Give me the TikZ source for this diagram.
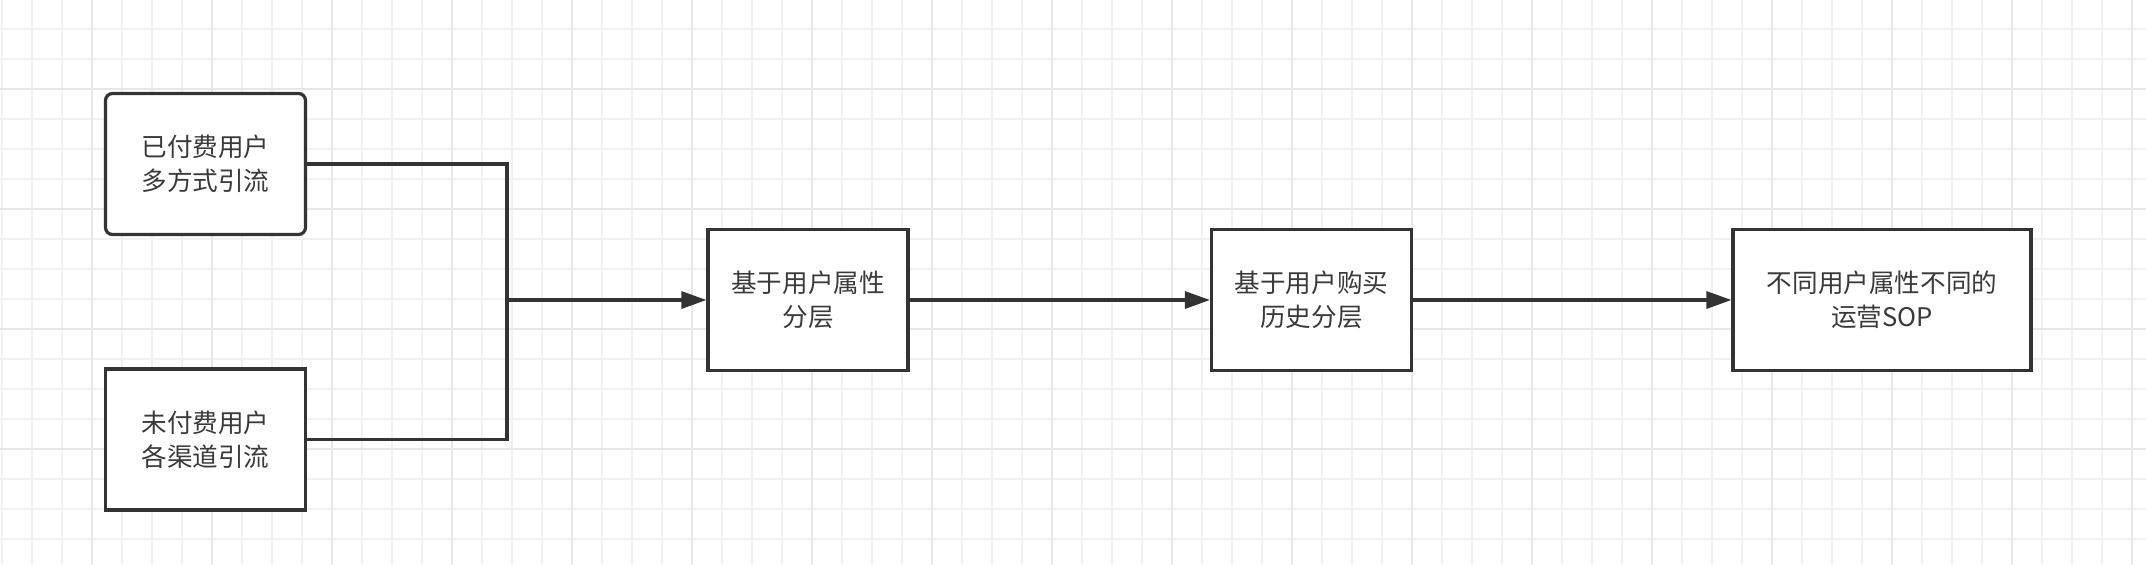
\documentclass[tikz,border=0pt]{standalone}
\usepackage{fontspec}
\newfontfamily\cjk{Noto Sans CJK SC}
\usetikzlibrary{arrows.meta}
\definecolor{ln}{HTML}{333333}
\definecolor{txt}{HTML}{3A3A3A}
\definecolor{gminor}{HTML}{F1F1F1}
\definecolor{gmajor}{HTML}{E7E7E7}
\begin{document}
\begin{tikzpicture}[x=0.5pt,y=-0.5pt,
  box/.style={draw=ln, line width=1.6pt, fill=white, text=txt,
    minimum width=100pt, minimum height=70.5pt, inner sep=0pt,
    align=center, font=\cjk\fontsize{12.8}{17}\selectfont},
  rbox/.style={box, rounded corners=3.5pt},
  conn/.style={draw=ln, line width=1.6pt},
  arr/.style={conn, -{Triangle[length=12.5pt, width=8.5pt]}}]
\useasboundingbox (0,0) rectangle (2146,564);
\fill[white] (0,0) rectangle (2146,564);
% grid
\foreach \x in {2,32,...,2146} \draw[gminor, line width=1pt] (\x,0) -- (\x,564);
\foreach \y in {29,59,...,564} \draw[gminor, line width=1pt] (0,\y) -- (2146,\y);
\foreach \x in {92,212,...,2146} \draw[gmajor, line width=1pt] (\x,0) -- (\x,564);
\foreach \y in {89,209,...,564} \draw[gmajor, line width=1pt] (0,\y) -- (2146,\y);
% nodes
\node[rbox] (A) at (205.5,164) {已付费用户\\多方式引流};
\node[box] (B) at (205.5,439.5) {未付费用户\\各渠道引流};
\node[box] (C) at (808,300) {基于用户属性\\分层};
\node[box] (D) at (1311.5,300) {基于用户购买\\历史分层};
\node[box, minimum width=149pt] (E) at (1882,300) {不同用户属性不同的\\运营SOP};
\coordinate (J) at (507,300);
% connectors
\draw[conn] (A.east) -| (J) |- (B.east);
\draw[arr] (J) -- (C.west);
\draw[arr] (C.east) -- (D.west);
\draw[arr] (D.east) -- (E.west);
\end{tikzpicture}
\end{document}
